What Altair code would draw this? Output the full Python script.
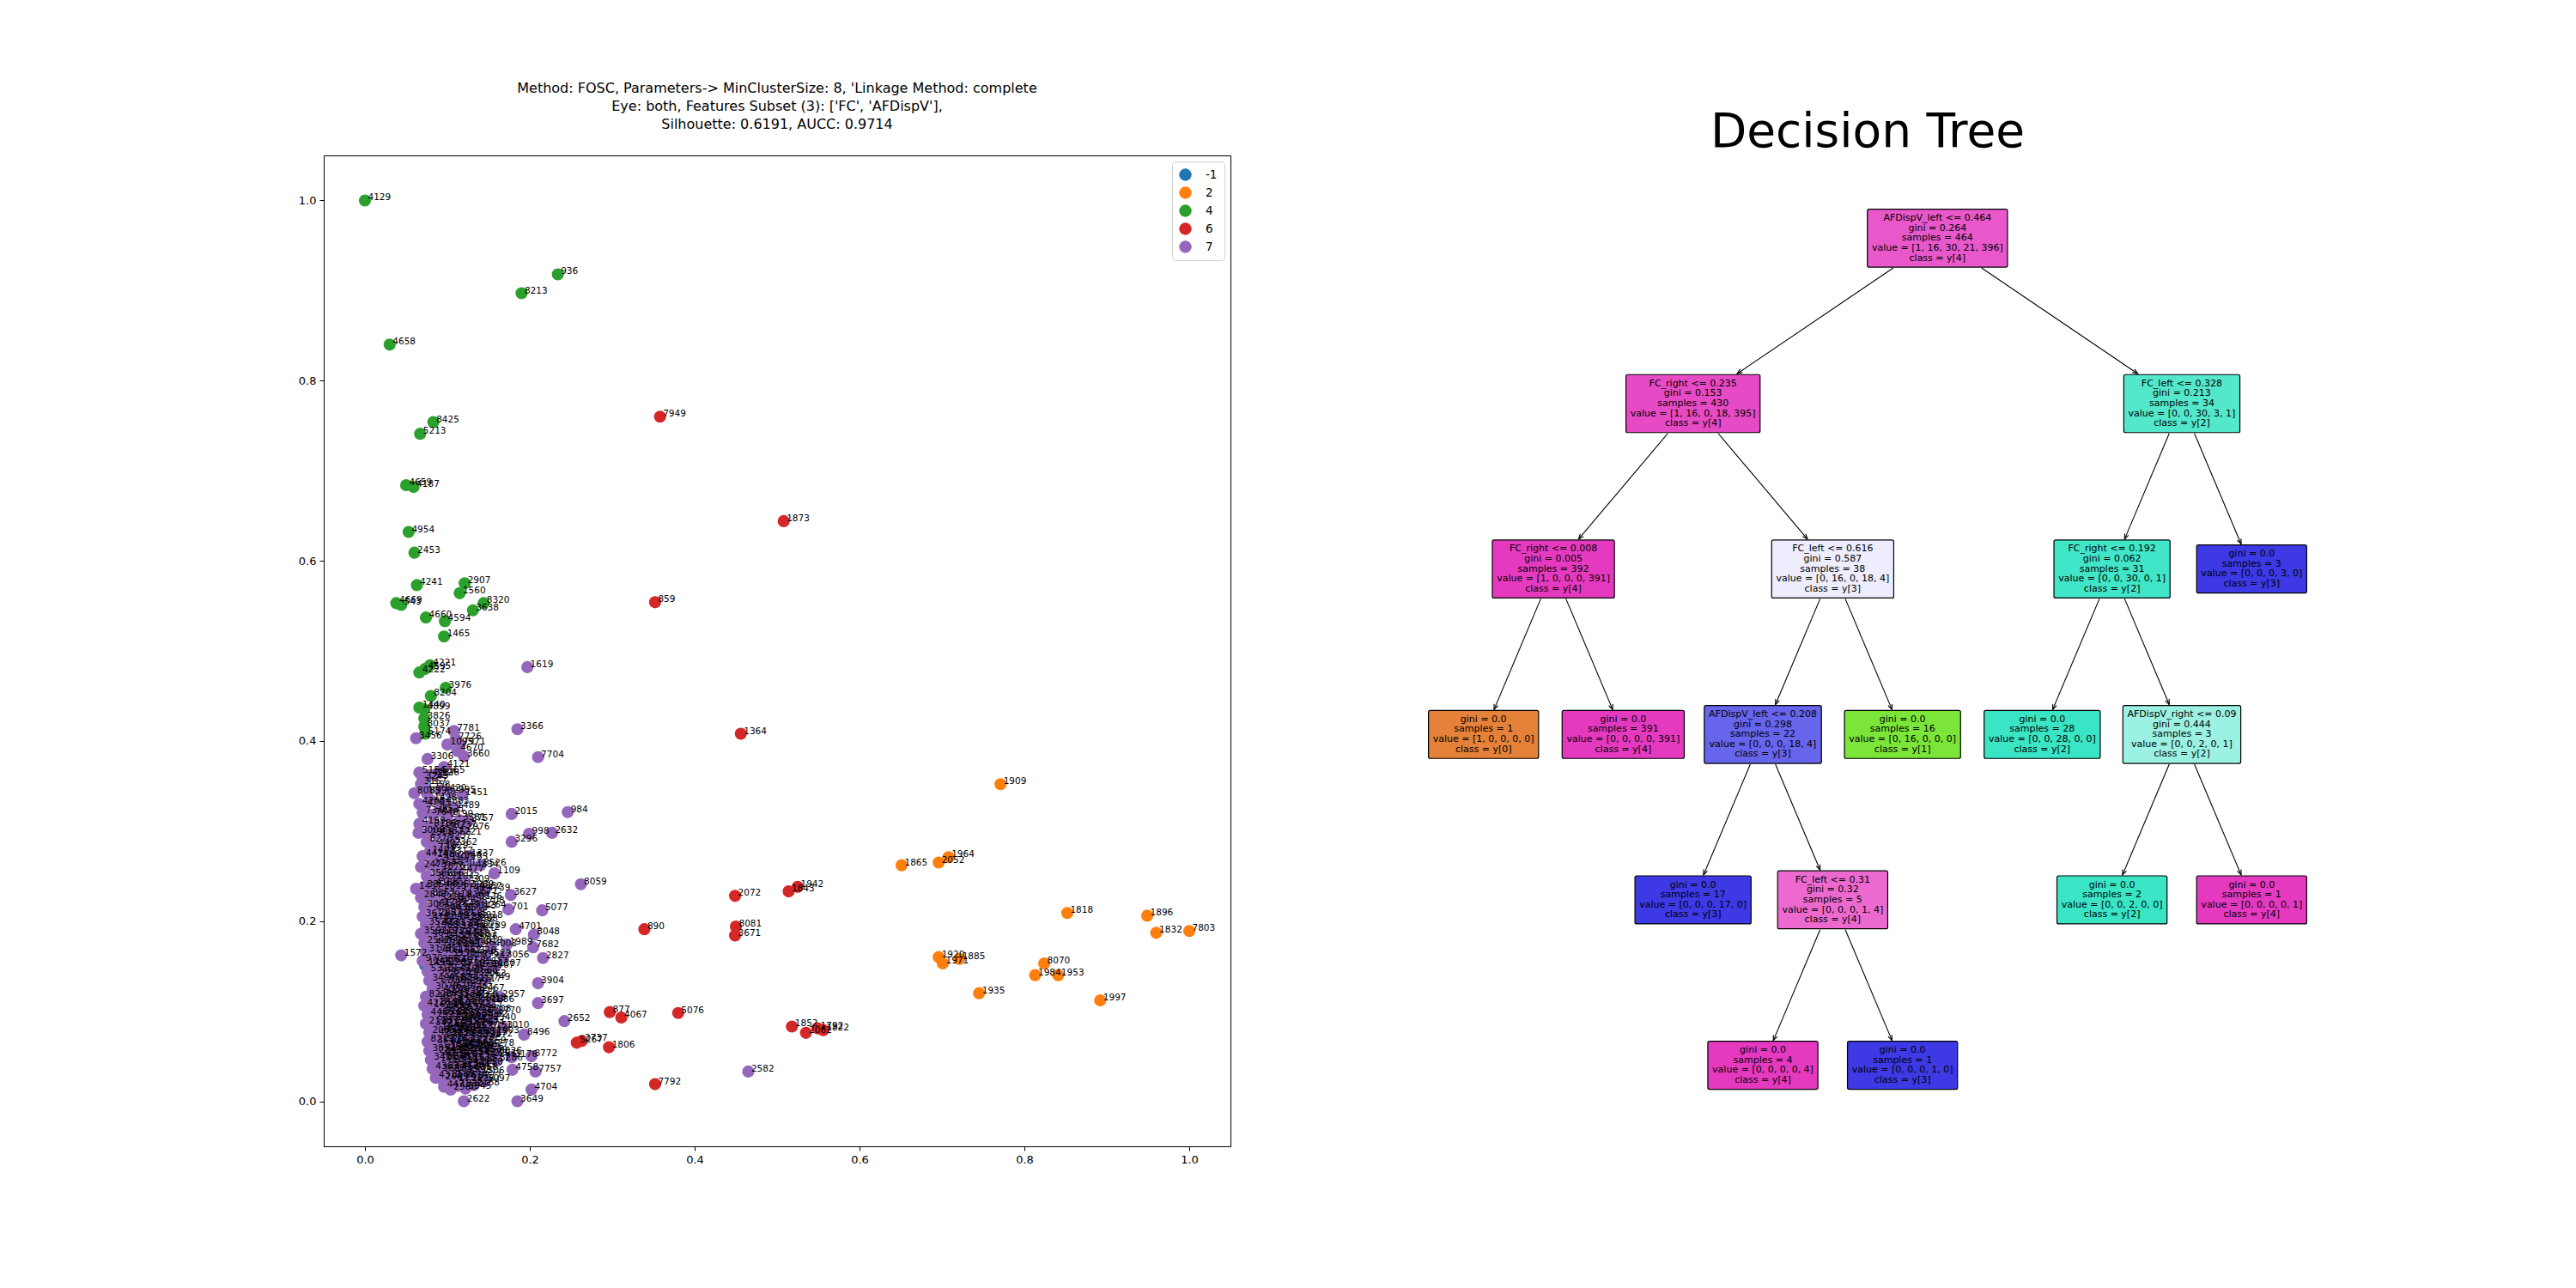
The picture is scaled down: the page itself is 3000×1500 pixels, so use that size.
import math
import altair as alt
import pandas as pd

FONT = "DejaVu Sans"

# ------------------------------------------------------------------ scatter data
cluster_order = ["-1", "2", "4", "6", "7"]
cluster_colors = ["#1f77b4", "#ff7f0e", "#2ca02c", "#d62728", "#9467bd"]

noise_pts = [(0.073, 0.151, "1456")]

orange_pts = [
    (0.771, 0.352, "1909"), (0.651, 0.262, "1865"), (0.696, 0.265, "2052"), (0.708, 0.271, "1964"),
    (0.852, 0.209, "1818"), (0.949, 0.206, "1896"), (0.960, 0.187, "1832"), (1.000, 0.189, "7803"),
    (0.696, 0.160, "1920"), (0.701, 0.153, "1971"), (0.721, 0.158, "1885"), (0.824, 0.153, "8070"),
    (0.813, 0.140, "1984"), (0.841, 0.140, "1953"), (0.745, 0.120, "1935"), (0.892, 0.112, "1997"),
]

green_pts = [
    (0.000, 1.000, "4129"), (0.234, 0.918, "936"), (0.190, 0.897, "8213"), (0.030, 0.840, "4658"),
    (0.083, 0.754, "8425"), (0.067, 0.741, "5213"), (0.050, 0.684, "4659"), (0.059, 0.682, "4187"),
    (0.053, 0.632, "4954"), (0.060, 0.609, "2453"), (0.063, 0.573, "4241"), (0.121, 0.575, "2907"),
    (0.115, 0.564, "1560"), (0.038, 0.553, "4669"), (0.044, 0.551, "543"), (0.144, 0.553, "8320"),
    (0.131, 0.545, "3638"), (0.074, 0.537, "4660"), (0.097, 0.533, "4594"), (0.096, 0.516, "1465"),
    (0.079, 0.484, "4221"), (0.073, 0.480, "4595"), (0.066, 0.476, "4222"), (0.098, 0.459, "3976"),
    (0.080, 0.450, "8204"), (0.066, 0.437, "1440"), (0.072, 0.435, "4899"), (0.072, 0.425, "3826"),
    (0.072, 0.416, "8037"), (0.073, 0.408, "5174"),
]

red_pts = [
    (0.358, 0.760, "7949"), (0.508, 0.644, "1873"), (0.352, 0.554, "859"), (0.456, 0.408, "1364"),
    (0.449, 0.228, "2072"), (0.514, 0.233, "1843"), (0.525, 0.238, "1942"), (0.339, 0.191, "890"),
    (0.450, 0.194, "8081"), (0.449, 0.184, "3671"), (0.297, 0.099, "877"), (0.311, 0.093, "4067"),
    (0.380, 0.098, "5076"), (0.518, 0.083, "1852"), (0.535, 0.076, "2062"), (0.549, 0.081, "1792"),
    (0.556, 0.079, "1822"), (0.257, 0.065, "5267"), (0.263, 0.067, "2737"), (0.296, 0.060, "1806"),
    (0.352, 0.019, "7792"),
]

purple_outer = [
    (0.197, 0.482, "1619"), (0.185, 0.413, "3366"), (0.210, 0.382, "7704"), (0.178, 0.319, "2015"),
    (0.246, 0.321, "984"), (0.199, 0.297, "998"), (0.227, 0.298, "2632"), (0.178, 0.288, "3296"),
    (0.157, 0.253, "1109"), (0.262, 0.241, "8059"), (0.177, 0.229, "3627"), (0.174, 0.213, "701"),
    (0.215, 0.212, "5077"), (0.183, 0.191, "4701"), (0.205, 0.185, "8048"), (0.204, 0.171, "7682"),
    (0.153, 0.172, "4003"), (0.172, 0.174, "1989"), (0.216, 0.159, "2827"), (0.168, 0.160, "3056"),
    (0.158, 0.150, "1307"), (0.210, 0.131, "3904"), (0.210, 0.109, "3697"), (0.163, 0.116, "2957"),
    (0.242, 0.089, "2652"), (0.158, 0.098, "8770"), (0.168, 0.082, "1010"), (0.193, 0.074, "8496"),
    (0.148, 0.072, "2572"), (0.159, 0.053, "8026"), (0.178, 0.049, "3176"), (0.202, 0.050, "8772"),
    (0.160, 0.045, "3286"), (0.179, 0.035, "4758"), (0.207, 0.033, "7757"), (0.202, 0.013, "4704"),
    (0.120, 0.000, "2622"), (0.185, 0.000, "3649"), (0.465, 0.033, "2582"), (0.044, 0.162, "1572"),
    (0.145, 0.022, "5097"), (0.145, 0.234, "4739"), (0.135, 0.236, "4852"), (0.140, 0.262, "8526"),
    (0.131, 0.260, "4834"), (0.125, 0.272, "1337"), (0.125, 0.311, "2757"), (0.145, 0.135, "3749"),
    (0.150, 0.148, "4967"), (0.138, 0.160, "8793"), (0.132, 0.190, "8842"), (0.128, 0.183, "8583"),
    (0.130, 0.200, "3598"), (0.138, 0.220, "8708"), (0.135, 0.225, "3126"),
]

purple_core = [
    (0.062, 0.403, "3456"), (0.108, 0.411, "7781"), (0.110, 0.402, "7726"), (0.100, 0.396, "1095"),
    (0.115, 0.396, "7971"), (0.112, 0.389, "4670"), (0.120, 0.383, "3660"), (0.076, 0.380, "3306"),
    (0.096, 0.371, "4121"), (0.090, 0.365, "5165"), (0.066, 0.365, "5154"), (0.078, 0.362, "4287"),
    (0.070, 0.358, "3249"), (0.083, 0.362, "1526"), (0.068, 0.352, "3157"), (0.072, 0.348, "1358"),
    (0.060, 0.342, "8083"), (0.075, 0.342, "8996"), (0.092, 0.345, "1420"), (0.103, 0.343, "2995"),
    (0.118, 0.340, "1451"),
    (0.066, 0.330, "4205"), (0.072, 0.328, "4263"), (0.080, 0.334, "1428"), (0.095, 0.330, "4883"),
    (0.108, 0.326, "1489"), (0.070, 0.320, "7346"), (0.082, 0.318, "7648"), (0.090, 0.322, "5521"),
    (0.100, 0.316, "2190"), (0.115, 0.312, "3581"), (0.066, 0.308, "4199"), (0.080, 0.306, "8186"),
    (0.092, 0.305, "1672"), (0.104, 0.304, "8737"), (0.120, 0.302, "2976"), (0.065, 0.298, "3008"),
    (0.076, 0.296, "2908"), (0.088, 0.297, "4387"), (0.098, 0.292, "3237"), (0.110, 0.296, "7221"),
    (0.075, 0.288, "8270"), (0.085, 0.284, "4407"), (0.094, 0.281, "1529"), (0.105, 0.285, "2362"),
    (0.078, 0.276, "1403"),
    (0.070, 0.272, "4414"), (0.084, 0.271, "1480"), (0.092, 0.268, "4910"), (0.100, 0.275, "3317"),
    (0.110, 0.270, "2266"), (0.118, 0.268, "7135"), (0.068, 0.260, "2473"), (0.080, 0.262, "2764"),
    (0.090, 0.258, "1876"), (0.102, 0.262, "5830"), (0.113, 0.255, "4477"), (0.075, 0.250, "3586"),
    (0.086, 0.247, "8291"), (0.096, 0.250, "2551"), (0.108, 0.246, "1643"), (0.120, 0.244, "7309"),
    (0.062, 0.236, "1437"), (0.072, 0.238, "3354"), (0.082, 0.240, "4188"), (0.092, 0.236, "2813"),
    (0.102, 0.238, "6952"), (0.114, 0.234, "1748"), (0.125, 0.238, "3960"), (0.068, 0.226, "2847"),
    (0.078, 0.228, "8362"), (0.088, 0.224, "5216"), (0.098, 0.226, "2919"), (0.110, 0.222, "4045"),
    (0.120, 0.226, "8164"), (0.130, 0.230, "1571"),
    (0.072, 0.216, "3061"), (0.082, 0.214, "2394"), (0.092, 0.218, "1795"), (0.100, 0.212, "4436"),
    (0.108, 0.216, "2640"), (0.118, 0.212, "8519"), (0.128, 0.214, "3143"), (0.140, 0.215, "1264"),
    (0.070, 0.205, "3612"), (0.078, 0.202, "4781"), (0.086, 0.206, "2057"), (0.094, 0.203, "8848"),
    (0.102, 0.206, "1381"), (0.110, 0.202, "7423"), (0.118, 0.205, "2685"), (0.126, 0.201, "4592"),
    (0.136, 0.204, "3918"), (0.074, 0.196, "3520"), (0.082, 0.193, "1966"), (0.090, 0.196, "4271"),
    (0.098, 0.192, "2733"), (0.106, 0.195, "8135"), (0.114, 0.191, "1854"), (0.122, 0.194, "3407"),
    (0.140, 0.192, "2289"), (0.068, 0.186, "3592"), (0.078, 0.184, "4642"), (0.088, 0.186, "1193"),
    (0.096, 0.182, "2488"), (0.104, 0.185, "7762"), (0.112, 0.181, "3375"), (0.120, 0.184, "4518"),
    (0.130, 0.180, "2026"), (0.072, 0.176, "2547"), (0.082, 0.174, "4413"), (0.092, 0.176, "1698"),
    (0.100, 0.172, "7408"), (0.108, 0.175, "3285"), (0.116, 0.171, "2912"), (0.126, 0.173, "4046"),
    (0.136, 0.176, "3819"),
    (0.074, 0.166, "3172"), (0.084, 0.164, "2405"), (0.094, 0.166, "8117"), (0.102, 0.162, "3958"),
    (0.110, 0.165, "1462"), (0.118, 0.161, "7087"), (0.128, 0.164, "2378"), (0.146, 0.162, "4529"),
    (0.070, 0.156, "970"), (0.080, 0.152, "1452"), (0.090, 0.155, "3862"), (0.098, 0.151, "2261"),
    (0.106, 0.154, "8407"), (0.114, 0.150, "3710"), (0.122, 0.153, "2589"), (0.132, 0.149, "4623"),
    (0.142, 0.152, "1817"), (0.076, 0.144, "5310"), (0.086, 0.142, "3647"), (0.096, 0.145, "2179"),
    (0.104, 0.141, "8365"), (0.112, 0.144, "4198"), (0.120, 0.140, "2932"), (0.130, 0.143, "1588"),
    (0.140, 0.139, "3063"), (0.078, 0.134, "3490"), (0.088, 0.132, "2704"), (0.098, 0.135, "4582"),
    (0.106, 0.131, "1983"), (0.114, 0.134, "8241"), (0.124, 0.130, "3391"), (0.134, 0.133, "2117"),
    (0.082, 0.124, "3078"), (0.092, 0.122, "4356"), (0.100, 0.125, "2619"), (0.110, 0.121, "7530"),
    (0.118, 0.124, "1746"), (0.128, 0.120, "3921"), (0.138, 0.123, "2467"),
    (0.074, 0.116, "8226"), (0.084, 0.114, "4675"), (0.094, 0.117, "2893"), (0.102, 0.113, "1349"),
    (0.110, 0.116, "3524"), (0.120, 0.112, "2727"), (0.130, 0.115, "4160"), (0.140, 0.112, "3018"),
    (0.150, 0.110, "1886"), (0.072, 0.106, "4226"), (0.080, 0.104, "1625"), (0.088, 0.107, "3196"),
    (0.096, 0.103, "2458"), (0.104, 0.106, "8604"), (0.112, 0.102, "3837"), (0.120, 0.105, "1472"),
    (0.128, 0.101, "2959"), (0.136, 0.104, "4317"), (0.146, 0.100, "3708"), (0.076, 0.096, "4486"),
    (0.084, 0.094, "2571"), (0.092, 0.097, "3342"), (0.100, 0.093, "1915"), (0.108, 0.096, "8473"),
    (0.116, 0.092, "2806"), (0.124, 0.095, "3655"), (0.132, 0.091, "1237"), (0.142, 0.094, "4092"),
    (0.152, 0.090, "2340"), (0.074, 0.086, "2198"), (0.082, 0.084, "3471"), (0.090, 0.087, "8312"),
    (0.098, 0.083, "1564"), (0.106, 0.086, "2945"), (0.114, 0.082, "4208"), (0.122, 0.085, "1396"),
    (0.130, 0.081, "3527"), (0.138, 0.084, "2674"), (0.148, 0.082, "8153"), (0.078, 0.076, "2085"),
    (0.086, 0.074, "4734"), (0.094, 0.077, "3169"), (0.102, 0.073, "1858"), (0.110, 0.076, "2481"),
    (0.118, 0.072, "8690"), (0.126, 0.075, "3268"), (0.134, 0.071, "1734"), (0.142, 0.074, "4315"),
    (0.156, 0.076, "2903"),
    (0.076, 0.066, "8219"), (0.084, 0.064, "3540"), (0.092, 0.067, "2176"), (0.100, 0.063, "4459"),
    (0.108, 0.066, "1623"), (0.116, 0.062, "3094"), (0.124, 0.065, "2717"), (0.132, 0.061, "8045"),
    (0.140, 0.064, "1359"), (0.150, 0.062, "4278"), (0.078, 0.056, "3852"), (0.086, 0.054, "2349"),
    (0.094, 0.057, "4126"), (0.102, 0.053, "1761"), (0.110, 0.056, "8389"), (0.118, 0.052, "2834"),
    (0.126, 0.055, "3615"), (0.134, 0.051, "1487"), (0.142, 0.054, "4509"), (0.152, 0.050, "2263"),
    (0.080, 0.046, "3421"), (0.088, 0.044, "1958"), (0.096, 0.047, "8276"), (0.104, 0.043, "2592"),
    (0.112, 0.046, "4183"), (0.120, 0.042, "3336"), (0.128, 0.045, "1675"), (0.136, 0.041, "2850"),
    (0.144, 0.044, "8517"), (0.082, 0.036, "4363"), (0.090, 0.034, "3080"), (0.098, 0.037, "2124"),
    (0.106, 0.033, "1845"), (0.114, 0.036, "4620"), (0.122, 0.032, "2398"), (0.130, 0.035, "8358"),
    (0.138, 0.031, "1506"), (0.086, 0.026, "4312"), (0.094, 0.024, "2069"), (0.102, 0.027, "3509"),
    (0.110, 0.023, "1791"), (0.118, 0.026, "8614"), (0.126, 0.022, "2236"), (0.134, 0.025, "3777"),
    (0.096, 0.016, "4471"), (0.104, 0.013, "2580"), (0.112, 0.017, "1330"), (0.122, 0.014, "3945"),
    (0.132, 0.018, "2168"),
    (0.095, 0.072, "2211"), (0.105, 0.079, "3631"), (0.115, 0.088, "4784"), (0.125, 0.068, "1592"),
    (0.099, 0.058, "2686"), (0.113, 0.049, "8702"), (0.121, 0.059, "3213"), (0.107, 0.040, "1473"),
    (0.127, 0.038, "2943"), (0.117, 0.078, "4058"), (0.103, 0.090, "3394"), (0.131, 0.087, "2535"),
    (0.089, 0.079, "1819"), (0.137, 0.058, "4626"), (0.109, 0.108, "3745"), (0.123, 0.098, "1294"),
    (0.097, 0.101, "2862"), (0.133, 0.110, "8441"), (0.091, 0.050, "4016"), (0.111, 0.061, "2303"),
]

purple_pts = purple_outer + purple_core

scatter_title = [
    "Method: FOSC, Parameters-> MinClusterSize: 8, 'Linkage Method: complete",
    "Eye: both, Features Subset (3): ['FC', 'AFDispV'],",
    "Silhouette: 0.6191, AUCC: 0.9714",
]
tree_title = "Decision Tree"
tick_vals = [0.0, 0.2, 0.4, 0.6, 0.8, 1.0]

# ------------------------------------------------------------------ tree data
class_colors = ["#e58139", "#7be539", "#39e5c5", "#3c39e5", "#e539c0"]
children_left = [1, 2, 3, -1, -1, 6, 7, -1, 9, -1, -1, -1, 13, 14, -1, 16, -1, -1, -1]
children_right = [12, 5, 4, -1, -1, 11, 8, -1, 10, -1, -1, -1, 18, 15, -1, 17, -1, -1, -1]
node_feature = ["AFDispV_left", "FC_right", "FC_right", "", "", "FC_left", "AFDispV_left", "",
                "FC_left", "", "", "", "FC_left", "FC_right", "", "AFDispV_right", "", "", ""]
node_threshold = ["0.464", "0.235", "0.008", "", "", "0.616", "0.208", "", "0.31", "", "", "",
                  "0.328", "0.192", "", "0.09", "", "", ""]
node_gini = ["0.264", "0.153", "0.005", "0.0", "0.0", "0.587", "0.298", "0.0", "0.32", "0.0", "0.0",
             "0.0", "0.213", "0.062", "0.0", "0.444", "0.0", "0.0", "0.0"]
node_samples = [464, 430, 392, 1, 391, 38, 22, 17, 5, 4, 1, 16, 34, 31, 28, 3, 2, 1, 3]
node_value = [
    [1, 16, 30, 21, 396], [1, 16, 0, 18, 395], [1, 0, 0, 0, 391], [1, 0, 0, 0, 0], [0, 0, 0, 0, 391],
    [0, 16, 0, 18, 4], [0, 0, 0, 18, 4], [0, 0, 0, 17, 0], [0, 0, 0, 1, 4], [0, 0, 0, 0, 4],
    [0, 0, 0, 1, 0], [0, 16, 0, 0, 0], [0, 0, 30, 3, 1], [0, 0, 30, 0, 1], [0, 0, 28, 0, 0],
    [0, 0, 2, 0, 1], [0, 0, 2, 0, 0], [0, 0, 0, 0, 1], [0, 0, 0, 3, 0],
]

# ------------------------------------------------------------------ scatter chart
rows = []
for name, pts in zip(cluster_order, [noise_pts, orange_pts, green_pts, red_pts, purple_pts]):
    for x, y, lab in pts:
        rows.append({"x": x, "y": y, "label": lab, "cluster": name})
sdf = pd.DataFrame(rows)

xs = alt.Scale(domain=[-0.05, 1.05], nice=False, zero=False)
ys = alt.Scale(domain=[-0.05, 1.05], nice=False, zero=False)
axis_kw = dict(values=tick_vals, format=".1f", grid=False, tickSize=5, tickColor="black",
               domainColor="black", labelColor="black", labelFont=FONT, labelFontSize=13,
               labelPadding=4, title=None, tickWidth=1, domainWidth=1)

legend = alt.Legend(title=None, orient="top-right", offset=7, padding=8, fillColor="white",
                    strokeColor="#d0d0d0", cornerRadius=4, symbolType="circle", symbolSize=210,
                    symbolStrokeWidth=0, labelFont=FONT, labelFontSize=13.5, labelColor="black",
                    labelOffset=16, rowPadding=6)

points = alt.Chart(sdf).mark_circle(size=200, opacity=1).encode(
    x=alt.X("x:Q", scale=xs, axis=alt.Axis(**axis_kw)),
    y=alt.Y("y:Q", scale=ys, axis=alt.Axis(**axis_kw)),
    color=alt.Color("cluster:N", scale=alt.Scale(domain=cluster_order, range=cluster_colors),
                    legend=legend, sort=cluster_order),
)
labels = alt.Chart(sdf).mark_text(align="left", baseline="alphabetic", dx=3.5, fontSize=10.5,
                                  font=FONT, color="black").encode(
    x=alt.X("x:Q", scale=xs, axis=alt.Axis(**axis_kw)),
    y=alt.Y("y:Q", scale=ys, axis=alt.Axis(**axis_kw)),
    text="label:N",
)
scatter = alt.layer(points, labels).properties(
    width=1056, height=1154,
    title=alt.TitleParams(text=scatter_title, fontSize=16, font=FONT, fontWeight="normal",
                          anchor="middle", offset=28, lineHeight=21, color="black"),
    view=alt.ViewBackground(stroke="black", strokeWidth=1),
)

# ------------------------------------------------------------------ tree layout
CW = {"A": .684, "F": .575, "D": .770, "C": .698, "V": .684, "i": .278, "s": .521, "p": .635,
      "_": .5, "l": .278, "e": .615, "f": .352, "t": .392, "r": .411, "g": .635, "h": .634,
      "n": .634, "a": .613, "m": .974, "v": .592, "u": .634, "c": .550, "y": .592, "<": .838,
      "=": .838, "[": .390, "]": .390, ",": .318, ".": .318, " ": .318}
BOX_FS = 11.0
BOX_LH = 11.6
TREE_W, TREE_H = 1106, 1154
TX_DOM = [-1.3, 12.3]
TY_DOM = [-0.5, 5.49]
PX_X = TREE_W / (TX_DOM[1] - TX_DOM[0])
PX_Y = TREE_H / (TY_DOM[1] - TY_DOM[0])


def text_w(s):
    return sum(CW.get(ch, 0.636 if ch.isdigit() else 0.6) for ch in s) * BOX_FS


def rt(n):
    if children_left[n] == -1:
        return {n: 0.0}, [(0.0, 0.0)]
    lp, lc = rt(children_left[n])
    rp, rc = rt(children_right[n])
    shift = max(lc[d][1] - rc[d][0] + 2 for d in range(min(len(lc), len(rc))))
    half = shift / 2
    pos = {n: 0.0}
    for k, v in lp.items():
        pos[k] = v - half
    for k, v in rp.items():
        pos[k] = v + half
    cont = [(0.0, 0.0)]
    for d in range(max(len(lc), len(rc))):
        lo, hi = [], []
        if d < len(lc):
            lo.append(lc[d][0] - half); hi.append(lc[d][1] - half)
        if d < len(rc):
            lo.append(rc[d][0] + half); hi.append(rc[d][1] + half)
        cont.append((min(lo), max(hi)))
    return pos, cont


pos, _ = rt(0)
mn = min(pos.values())
pos = {k: v - mn for k, v in pos.items()}
depth = {0: 0}
for n in range(len(children_left)):
    for c in (children_left[n], children_right[n]):
        if c != -1:
            depth[c] = depth[n] + 1


def node_color(vals):
    tot = sum(vals)
    props = sorted([v / tot for v in vals], reverse=True)
    alpha = (props[0] - props[1]) / (1 - props[1])
    k = vals.index(max(vals))
    hx = class_colors[k]
    rgb = [int(hx[i:i + 2], 16) for i in (1, 3, 5)]
    out = [int(round(alpha * c + (1 - alpha) * 255)) for c in rgb]
    return "#%02x%02x%02x" % tuple(out)


nodes = []
half_h = {}
for n in range(len(children_left)):
    vals = node_value[n]
    k = vals.index(max(vals))
    lines = []
    if children_left[n] != -1:
        lines.append(f"{node_feature[n]} <= {node_threshold[n]}")
    lines += [f"gini = {node_gini[n]}", f"samples = {node_samples[n]}",
              "value = [" + ", ".join(str(v) for v in vals) + "]", f"class = y[{k}]"]
    wpx = max(text_w(s) for s in lines) + 10.4
    hpx = len(lines) * BOX_LH + 9.5
    half_h[n] = hpx / 2
    x, y = pos[n], depth[n]
    nodes.append({"x": x, "y": y, "x1": x - wpx / 2 / PX_X, "x2": x + wpx / 2 / PX_X,
                  "y1": y - hpx / 2 / PX_Y, "y2": y + hpx / 2 / PX_Y,
                  "ty": y - (len(lines) - 1) / 2 * BOX_LH / PX_Y,
                  "text": "\n".join(lines), "fill": node_color(vals)})
ndf = pd.DataFrame(nodes)

edges = []
for p in range(len(children_left)):
    for c in (children_left[p], children_right[p]):
        if c == -1:
            continue
        dx = (pos[c] - pos[p]) * PX_X
        dy = (depth[c] - depth[p]) * PX_Y
        t0 = (half_h[p] + 1) / dy
        t1 = 1 - (half_h[c] + 1) / dy
        ang = math.degrees(math.atan2(-dx, dy)) % 360
        edges.append({"ex1": pos[p] + t0 * (pos[c] - pos[p]), "ey1": depth[p] + t0,
                      "ex2": pos[p] + t1 * (pos[c] - pos[p]), "ey2": depth[p] + t1,
                      "ang": ang})
edf = pd.DataFrame(edges)

tx = alt.Scale(domain=TX_DOM, nice=False, zero=False)
ty = alt.Scale(domain=TY_DOM, nice=False, zero=False, reverse=True)

rules = alt.Chart(edf).mark_rule(color="black", strokeWidth=1.1).encode(
    x=alt.X("ex1:Q", scale=tx, axis=None), y=alt.Y("ey1:Q", scale=ty, axis=None),
    x2="ex2:Q", y2="ey2:Q")
heads = alt.Chart(edf).mark_point(shape="M-0.4,-1L0,0L0.4,-1", filled=False, stroke="black",
                                  strokeWidth=1.1, size=144, opacity=1).encode(
    x=alt.X("ex2:Q", scale=tx, axis=None), y=alt.Y("ey2:Q", scale=ty, axis=None),
    angle=alt.Angle("ang:Q", scale=None))
boxes = alt.Chart(ndf).mark_rect(stroke="black", strokeWidth=1.2, cornerRadius=2).encode(
    x=alt.X("x1:Q", scale=tx, axis=None), x2="x2:Q",
    y=alt.Y("y1:Q", scale=ty, axis=None), y2="y2:Q",
    fill=alt.Fill("fill:N", scale=None))
btext = alt.Chart(ndf).mark_text(lineBreak="\n", fontSize=BOX_FS, lineHeight=BOX_LH, font=FONT,
                                 align="center", baseline="middle", color="black").encode(
    x=alt.X("x:Q", scale=tx, axis=None), y=alt.Y("ty:Q", scale=ty, axis=None), text="text:N")
ttl = alt.Chart(pd.DataFrame({"t": [tree_title]})).mark_text(
    fontSize=55, font=FONT, align="center", baseline="alphabetic", color="black").encode(
    x=alt.value(TREE_W / 2), y=alt.value(-10), text="t:N")

tree = alt.layer(rules, heads, boxes, btext, ttl).properties(
    width=TREE_W, height=TREE_H,
    view=alt.ViewBackground(stroke="transparent", strokeWidth=0),
)

chart = alt.hconcat(scatter, tree, spacing=188).resolve_legend(color="independent").properties(
    padding={"left": 346, "top": 94, "right": 10, "bottom": 10},
    background="white",
)

chart.save("out.html", embed_options={"renderer": "svg", "actions": False})
